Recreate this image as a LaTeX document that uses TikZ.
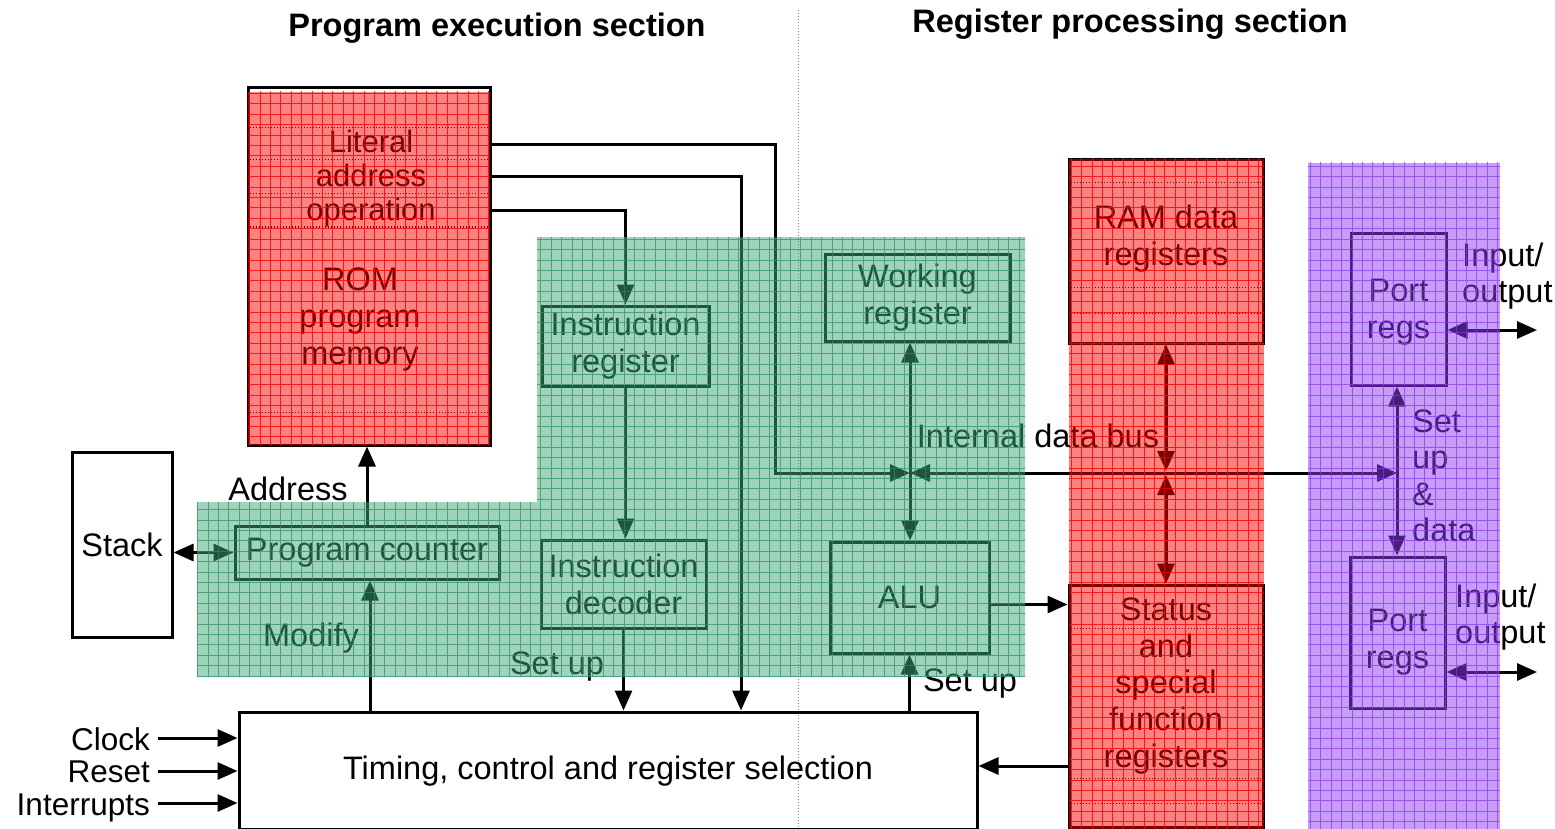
\documentclass[tikz,border=0pt]{standalone}
\usepackage{fontspec}
\setmainfont{Liberation Sans}
\usetikzlibrary{arrows.meta}
\definecolor{ovgreen}{RGB}{60,170,120}
\definecolor{gridgreen}{RGB}{45,140,95}
\definecolor{ovpurple}{RGB}{146,60,246}
\definecolor{gridpurple}{RGB}{135,55,235}
\definecolor{gridred}{RGB}{245,0,0}
\begin{document}
\begin{tikzpicture}[x=1pt,y=-1pt,
  font=\fontsize{32.5}{37}\selectfont,
  box/.style={draw, line width=3pt, inner sep=0pt, align=center},
  lbl/.style={align=center, inner sep=0pt},
  conn/.style={line width=3pt},
  >={Triangle[length=20pt,width=17pt]},
  sep/.style={line width=1pt, dash pattern=on 1pt off 2pt},
  title/.style={font=\fontsize{32.5}{37}\selectfont\bfseries, inner sep=0pt}]
\useasboundingbox (0,0) rectangle (1555,829);

% section titles and divider
\node[title] (t1) at (497,28) {Program execution section};
\node[title] (t2) at (1130,24) {Register processing section};
\draw[gray, line width=0.8pt, dash pattern=on 1pt off 2pt] (798,10) -- (798,829);

% blocks
\node[box, minimum width=242pt, minimum height=357pt] (rom) at (369,266.5) {};
\node[lbl, font=\fontsize{31}{34}\selectfont] (lit) at (371,178) {Literal\\address\\operation};
\node[lbl] (romt) at (360,320) {ROM\\program\\memory};
\node[box, minimum width=100pt, minimum height=185pt] (stack) at (122,544.5) {Stack};
\node[box, minimum width=264pt, minimum height=53pt] (pc) at (367,552.5) {Program counter};
\node[box, minimum width=167pt, minimum height=80pt] (ir) at (625.5,346) {Instruction\\register};
\node[box, minimum width=165pt, minimum height=88pt] (id) at (623.5,584) {Instruction\\decoder};
\node[box, minimum width=185pt, minimum height=87pt] (wr) at (917.5,297.5) {Working\\register};
\node[box, minimum width=159pt, minimum height=111pt] (alu) at (909.5,597.5) {ALU};
\node[box, minimum width=738pt, minimum height=117pt] (tim) at (608,770.5) {};
\node[lbl] (timt) at (608,771) {Timing, control and register selection};
\node[box, minimum width=194pt, minimum height=183pt] (ram) at (1166,251.5) {};
\node[lbl] (ramt) at (1166,239) {RAM data\\registers};
\node[box, minimum width=194pt, minimum height=242pt] (sfr) at (1166,706) {};
\node[lbl, font=\fontsize{32.5}{36.7}\selectfont] (sfrt) at (1166,686) {Status\\and\\special\\function\\registers};
\node[box, minimum width=95pt, minimum height=152pt] (p1) at (1398.5,309) {};
\node[lbl] (p1t) at (1398.5,312) {Port\\regs};
\node[box, minimum width=95pt, minimum height=151pt] (p2) at (1397.5,632.5) {};
\node[lbl] (p2t) at (1397.5,642) {Port\\regs};

% dotted register separators
\draw[sep] (rom.west |- 0,128) -- (rom.east |- 0,128);
\draw[sep] (rom.west |- 0,160) -- (rom.east |- 0,160);
\draw[sep] (rom.west |- 0,194) -- (rom.east |- 0,194);
\draw[sep] (rom.west |- 0,227) -- (rom.east |- 0,227);
\draw[sep] (rom.west |- 0,412) -- (rom.east |- 0,412);
\draw[sep] (ram.west |- 0,183) -- (ram.east |- 0,183);
\draw[sep] (ram.west |- 0,287) -- (ram.east |- 0,287);
\draw[sep] (ram.west |- 0,313) -- (ram.east |- 0,313);
\draw[sep] (sfr.west |- 0,628) -- (sfr.east |- 0,628);
\draw[sep] (sfr.west |- 0,778) -- (sfr.east |- 0,778);
\draw[sep] (sfr.west |- 0,803) -- (sfr.east |- 0,803);

% labels
\node[lbl] (addr) at (288,489) {Address};
\node[lbl] (mod) at (311,638) {Modify};
\node[lbl] (su1) at (557,667) {Set up};
\node[lbl] (su2) at (970,684) {Set up};
\node[lbl] (idb) at (1038,436) {Internal data bus};
\node[lbl, align=left, anchor=west, font=\fontsize{32.5}{36.5}\selectfont] (sud) at (1412,476) {Set\\up\\\&\\data};
\node[lbl, align=left, anchor=west, font=\fontsize{32.5}{36}\selectfont] (io1) at (1462,276) {Input/\\output};
\node[lbl, align=left, anchor=west, font=\fontsize{32.5}{36}\selectfont] (io2) at (1455,617) {Input/\\output};
\node[lbl, anchor=base east, font=\fontsize{31.5}{34}\selectfont] (clk) at (150,750) {Clock};
\node[lbl, anchor=base east, font=\fontsize{31.5}{34}\selectfont] (rst) at (150,782) {Reset};
\node[lbl, anchor=base east, font=\fontsize{31.5}{34}\selectfont] (irq) at (150,815) {Interrupts};

% bus junctions and input arrow rows
\coordinate (busL) at (775,473);
\coordinate (busX) at (910,473);
\coordinate (busR) at (1166,473);
\coordinate (busP) at (1397,473);
\coordinate (ioe1) at (1537,330);
\coordinate (ioe2) at (1537,672);
\coordinate (clkR) at (158,738);
\coordinate (rstR) at (158,771);
\coordinate (irqR) at (158,803);

% connectors
\draw[conn,->] (rom.east |- 0,145) -| (busL) -- (busX);
\draw[conn,<->] (busX) -- (busP);
\draw[conn,<->] (wr.south -| busX) -- (alu.north -| busX);
\draw[conn,<->] (ram.south) -- ([yshift=2pt]busR);
\draw[conn,<->] ([yshift=-2pt]busR) -- (sfr.north);
\draw[conn,<->] (p1.south -| busP) -- (p2.north -| busP);
\draw[conn,<->] (p1.east |- ioe1) -- (ioe1);
\draw[conn,<->] (p2.east |- ioe2) -- (ioe2);
\draw[conn,->] (rom.east |- 0,177) -| (tim.north -| 741,0);
\draw[conn,->] (rom.east |- 0,211) -| (ir.north);
\draw[conn,->] (ir.south) -- (ir.south |- id.north);
\draw[conn,->] (id.south) -- (id.south |- tim.north);
\draw[conn,->] (tim.north -| alu.south) -- (alu.south);
\draw[conn,->] (tim.north -| 370,0) -- (pc.south -| 370,0);
\draw[conn,->] (pc.north) -- (pc.north |- rom.south);
\draw[conn,<->] (stack.east |- pc.west) -- (pc.west);
\draw[conn,->] ([yshift=-7pt]alu.east) -- ([yshift=-7pt]alu.east -| sfr.west);
\draw[conn,->] (sfr.west |- 0,766) -- (tim.east |- 0,766);
\draw[conn,->] (clkR) -- (clkR -| tim.west);
\draw[conn,->] (rstR) -- (rstR -| tim.west);
\draw[conn,->] (irqR) -- (irqR -| tim.west);

% tinted grid overlays
\begin{scope}
  \fill[red, fill opacity=0.49] (248,92) rectangle (490,445);
  \clip (248,92) rectangle (490,445);
  \draw[gridred, line width=1pt, opacity=0.8] (240,450) grid[step=10.4pt] (500,80);
\end{scope}
\begin{scope}
  \fill[red, fill opacity=0.49] (1069,159) rectangle (1264,829);
  \clip (1069,159) rectangle (1264,829);
  \draw[gridred, line width=1pt, opacity=0.8] (1060,830) grid[step=10.4pt] (1270,150);
\end{scope}
\begin{scope}
  \fill[ovgreen, fill opacity=0.5] (537,237) -- (1025,237) -- (1025,677) -- (197,677) -- (197,502) -- (537,502) -- cycle;
  \clip (537,237) -- (1025,237) -- (1025,677) -- (197,677) -- (197,502) -- (537,502) -- cycle;
  \draw[gridgreen, line width=1pt, opacity=0.7] (190,680) grid[step=10.4pt] (1030,230);
\end{scope}
\begin{scope}
  \fill[ovpurple, fill opacity=0.5] (1308,163) rectangle (1500,829);
  \clip (1308,163) rectangle (1500,829);
  \draw[gridpurple, line width=1pt, opacity=0.7] (1300,830) grid[step=10.4pt] (1510,160);
\end{scope}
\end{tikzpicture}
\end{document}
